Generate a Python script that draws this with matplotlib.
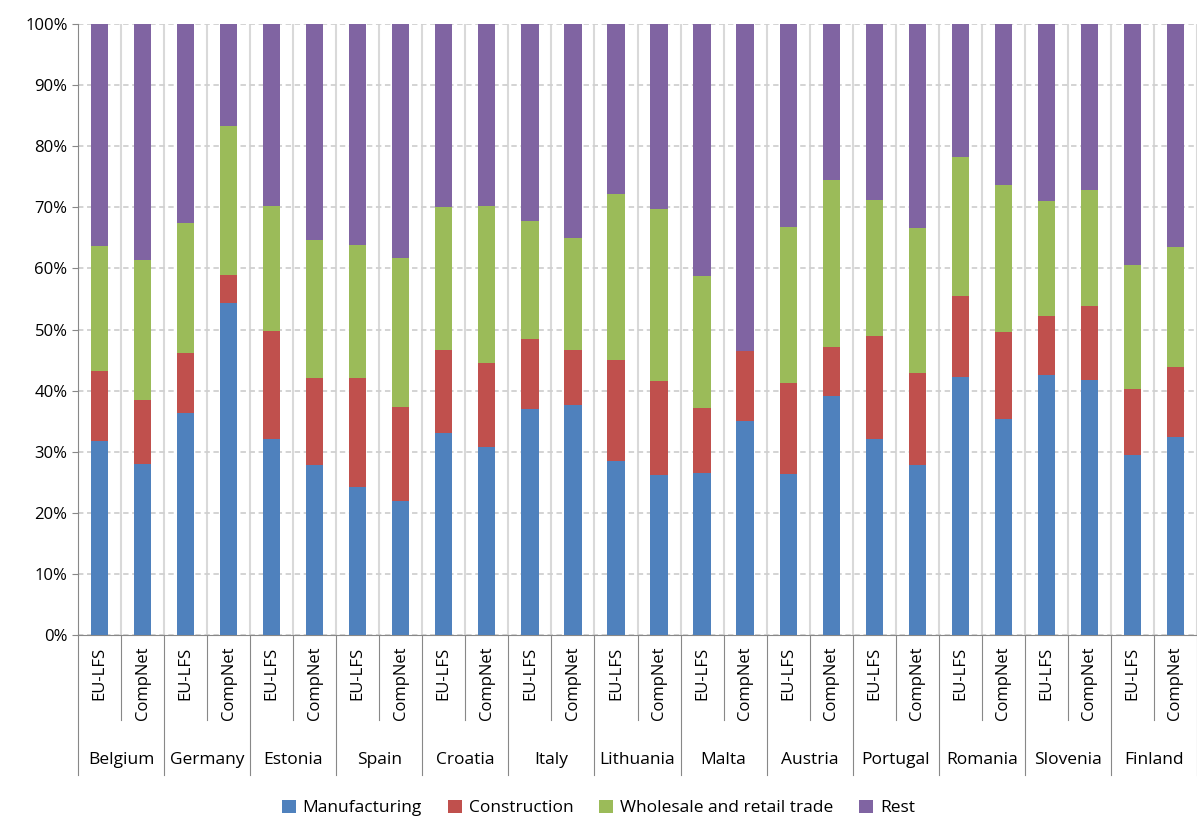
import matplotlib
matplotlib.use("Agg")
import matplotlib.pyplot as plt
import numpy as np
from matplotlib.transforms import blended_transform_factory

countries = ["Belgium","Germany","Estonia","Spain","Croatia","Italy","Lithuania","Malta","Austria","Portugal","Romania","Slovenia","Finland"]
sources = ["EU-LFS","CompNet"]
# cumulative tops: manufacturing, +construction, +wholesale (percent)
manu_top = [31.7,28.0,36.3,54.4,32.1,27.8,24.2,21.9,33.1,30.8,37.0,37.7,28.4,26.2,26.5,35.0,26.3,39.1,32.1,27.8,42.2,35.4,42.5,41.8,29.4,32.4]
constr_top = [43.2,38.5,46.1,58.9,49.8,42.1,42.1,37.3,46.7,44.5,48.5,46.7,45.0,41.5,37.1,46.4,41.2,47.2,49.0,42.8,55.5,49.6,52.2,53.8,40.2,43.8]
whole_top = [63.6,61.3,67.4,83.3,70.2,64.6,63.9,61.7,70.0,70.2,67.8,65.0,72.2,69.7,58.7,46.4,66.8,74.5,71.2,66.6,78.3,73.7,71.1,72.9,60.6,63.5]

manu = np.array(manu_top)
constr = np.array(constr_top) - manu
whole = np.array(whole_top) - np.array(constr_top)
rest = 100 - np.array(whole_top)

colors = ["#4F81BD","#C0504D","#9BBB59","#8064A2"]
names = ["Manufacturing","Construction","Wholesale and retail trade","Rest"]

plt.rcParams['font.family'] = ['Open Sans','DejaVu Sans']
fig = plt.figure(figsize=(11.97,8.18), dpi=100)
ax = fig.add_axes([78/1197, 1-635/818, 1119/1197, 611/818])
x = np.arange(len(manu))
bottom = np.zeros(len(manu))
for vals, c, n in zip([manu, constr, whole, rest], colors, names):
    ax.bar(x, vals, 0.4, bottom=bottom, color=c, label=n, zorder=3)
    bottom += vals
ax.set_xlim(-0.5, len(x)-0.5)
ax.set_ylim(0, 100)
ax.set_yticks(np.arange(0, 101, 10))
ax.set_yticklabels([f"{v}%" for v in range(0, 101, 10)], fontsize=12)
ax.yaxis.grid(True, linestyle=(0,(3,2)), color="#D0D0D0", lw=1.3, zorder=0)
for i in range(1, len(x)+1):
    ax.axvline(i-0.5, color="#D9D9D9", lw=1.5, zorder=0)
ax.set_xticks([])
for s in ["top","right"]:
    ax.spines[s].set_visible(False)
ax.spines["left"].set_color("#888888")
ax.spines["bottom"].set_color("#888888")
ax.tick_params(axis='y', length=4, color="#888888")

tr = blended_transform_factory(ax.transData, ax.transAxes)
h = 611
for i in range(len(x)):
    ax.text(i, -12/h, sources[i % 2], rotation=90, ha="center", va="top", fontsize=12, transform=tr)
for i in range(len(x)+1):
    bottom_y = -140/h if i % 2 == 0 else -85/h
    ax.plot([i-0.5, i-0.5], [0, bottom_y], color="#888888", lw=0.8, transform=tr, clip_on=False)
for g, c in enumerate(countries):
    ax.text(2*g+0.5, -125/h, c, ha="center", va="center", fontsize=12.5, transform=tr)

fig.legend(*ax.get_legend_handles_labels(), loc="center", bbox_to_anchor=(0.5, 1-808/818), ncol=4,
           frameon=False, fontsize=12.5, handlelength=0.8, handleheight=0.8, columnspacing=1.5, handletextpad=0.4)
fig.savefig("out.png", dpi=100)
